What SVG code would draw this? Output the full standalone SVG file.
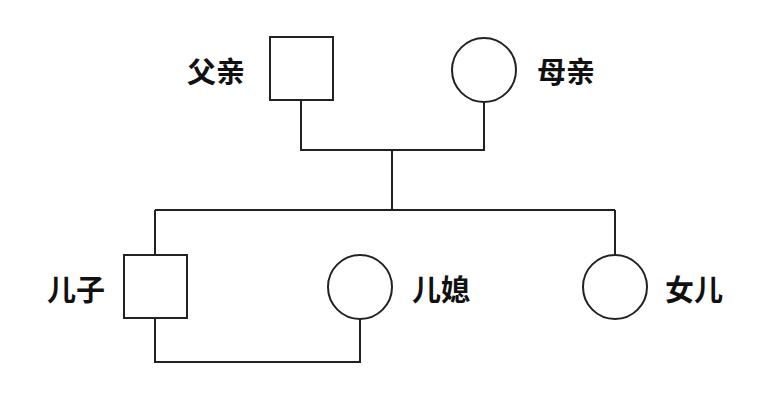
<svg xmlns="http://www.w3.org/2000/svg" width="771" height="400" viewBox="0 0 771 400">
<style>
.s{fill:#fff;stroke:#222;stroke-width:2}
.l{fill:none;stroke:#222;stroke-width:2}
text{font-family:"Noto Sans CJK SC",sans-serif;font-weight:bold;font-size:29px;fill:#111;dominant-baseline:central;text-anchor:middle}
</style>
<rect width="771" height="400" fill="#fff"/>
<g id="connectors">
<path class="l" d="M301 101V150H484V102M392 150V210M155 210H615M155 210V255M615 210V255M155 318V362H360V319"/>
</g>
<g id="father"><rect class="s" x="270" y="37" width="63" height="63"/><text x="216" y="70">父亲</text></g>
<g id="mother"><circle class="s" cx="484" cy="70" r="32"/><text x="566" y="70">母亲</text></g>
<g id="son"><rect class="s" x="124" y="255" width="63" height="63"/><text x="76" y="288">儿子</text></g>
<g id="daughter-in-law"><circle class="s" cx="360" cy="287" r="32"/><text x="441" y="288">儿媳</text></g>
<g id="daughter"><circle class="s" cx="615" cy="287" r="32"/><text x="694" y="288">女儿</text></g>
</svg>
